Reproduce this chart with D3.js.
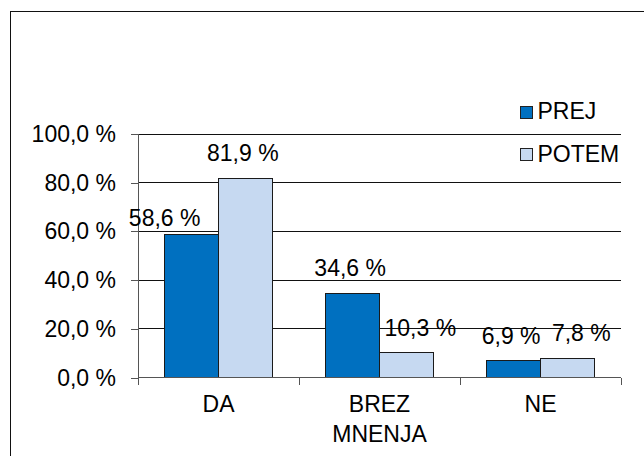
<!DOCTYPE html>
<html>
<head>
<meta charset="utf-8">
<script src="https://cdn.jsdelivr.net/npm/d3@7"></script>
<style>
  body { margin: 0; background: #fff; }
  text { font-family: "Liberation Sans", Arial, sans-serif; fill: #000; }
  line, path, rect { shape-rendering: crispEdges; }
</style>
</head>
<body>
<div id="chart"></div>
<script>
// data
const categories = ["DA", "BREZ MNENJA", "NE"];
const series = ["PREJ", "POTEM"];
const prej = [58.6, 34.6, 6.9];
const potem = [81.9, 10.3, 7.8];
const yTicks = [0, 20, 40, 60, 80, 100];

const colors = {PREJ: "#0070C0", POTEM: "#C6D9F1"};

// hand-placed label nudges (dx, dy from bar centre / bar top)
const labelNudge = {
  "PREJ:DA": [-27, -9],
  "POTEM:BREZ MNENJA": [14, -17],
  "POTEM:NE": [14, -18]
};

const W = 644, H = 456;
const plot = {left: 138, right: 621, top: 134, bottom: 377.7};

const svg = d3.select("#chart").append("svg")
  .attr("width", W).attr("height", H);

// outer frame (runs off right/bottom edge)
svg.append("rect")
  .attr("x", 10.5).attr("y", 11.5)
  .attr("width", 700).attr("height", 500)
  .attr("fill", "none").attr("stroke", "#111").attr("stroke-width", 1.4);

const y = d3.scaleLinear().domain([0, 100]).range([plot.bottom, plot.top]);
const x0 = d3.scaleBand().domain(categories).range([plot.left, plot.right]);
const x1 = d3.scaleBand().domain(series).range([0, x0.bandwidth()])
  .paddingInner(0).paddingOuter(0.5);

// gridlines
svg.append("g")
  .selectAll("line")
  .data(yTicks.filter(d => d > 0))
  .join("line")
    .attr("x1", plot.left).attr("x2", plot.right)
    .attr("y1", d => y(d)).attr("y2", d => y(d))
    .attr("stroke", "#111").attr("stroke-width", 1);

// y axis
const yAxis = svg.append("g")
  .attr("transform", `translate(${plot.left},0)`)
  .call(d3.axisLeft(y)
    .tickValues(yTicks)
    .tickSize(7)
    .tickPadding(15)
    .tickFormat(d => d.toFixed(1).replace(".", ",") + " %"));
yAxis.select(".domain").attr("stroke", "#555").attr("d", `M-0,${plot.top}V${plot.bottom + 7}`);
yAxis.selectAll(".tick line").attr("stroke", "#555");
yAxis.selectAll("text")
  .style("font-size", "23px")
  .attr("fill", "#000");

// bars
const rows = [];
categories.forEach((c, i) => {
  rows.push({cat: c, s: "PREJ", v: prej[i]});
  rows.push({cat: c, s: "POTEM", v: potem[i]});
});

svg.append("g")
  .selectAll("rect")
  .data(rows)
  .join("rect")
    .attr("x", d => x0(d.cat) + x1(d.s))
    .attr("y", d => y(d.v))
    .attr("width", x1.bandwidth())
    .attr("height", d => y(0) - y(d.v))
    .attr("fill", d => colors[d.s])
    .attr("stroke", "#1a1a1a")
    .attr("stroke-width", 1);

// x axis line + category boundary ticks
const xAxis = svg.append("g").attr("transform", `translate(0,${plot.bottom})`);
xAxis.append("line")
  .attr("x1", plot.left).attr("x2", plot.right)
  .attr("stroke", "#555");
xAxis.selectAll(".bound")
  .data(categories)
  .join("line")
    .attr("class", "bound")
    .attr("x1", d => x0(d) + x0.bandwidth()).attr("x2", d => x0(d) + x0.bandwidth())
    .attr("y1", 0).attr("y2", 7)
    .attr("stroke", "#555");

// category labels
xAxis.selectAll(".lbl")
  .data(categories)
  .join("text")
    .attr("class", "lbl")
    .attr("text-anchor", "middle")
    .style("font-size", "23px")
    .attr("x", d => x0(d) + x0.bandwidth() / 2)
    .attr("y", 34.8)
    .each(function(d) {
      const words = d.split(" ");
      d3.select(this).selectAll("tspan")
        .data(words)
        .join("tspan")
          .attr("x", x0(d) + x0.bandwidth() / 2)
          .attr("dy", (w, i) => i === 0 ? 0 : 29.4)
          .text(w => w);
    });

// value labels
svg.append("g")
  .selectAll("text")
  .data(rows)
  .join("text")
    .attr("text-anchor", "middle")
    .style("font-size", "23px")
    .attr("x", d => {
      const n = labelNudge[d.s + ":" + d.cat] || [-2.5, -17];
      return x0(d.cat) + x1(d.s) + x1.bandwidth() / 2 + n[0];
    })
    .attr("y", d => {
      const n = labelNudge[d.s + ":" + d.cat] || [-2.5, -17];
      return y(d.v) + n[1];
    })
    .text(d => d.v.toFixed(1).replace(".", ",") + " %");

// legend
const legend = svg.append("g")
  .selectAll("g")
  .data(series)
  .join("g")
    .attr("transform", (d, i) => `translate(520,${106 + i * 42.7})`);
legend.append("rect")
  .attr("width", 12).attr("height", 12)
  .attr("fill", d => colors[d])
  .attr("stroke", "#222").attr("stroke-width", 1);
legend.append("text")
  .attr("x", 17.5).attr("y", 13)
  .style("font-size", "23px")
  .text(d => d);
</script>
</body>
</html>
